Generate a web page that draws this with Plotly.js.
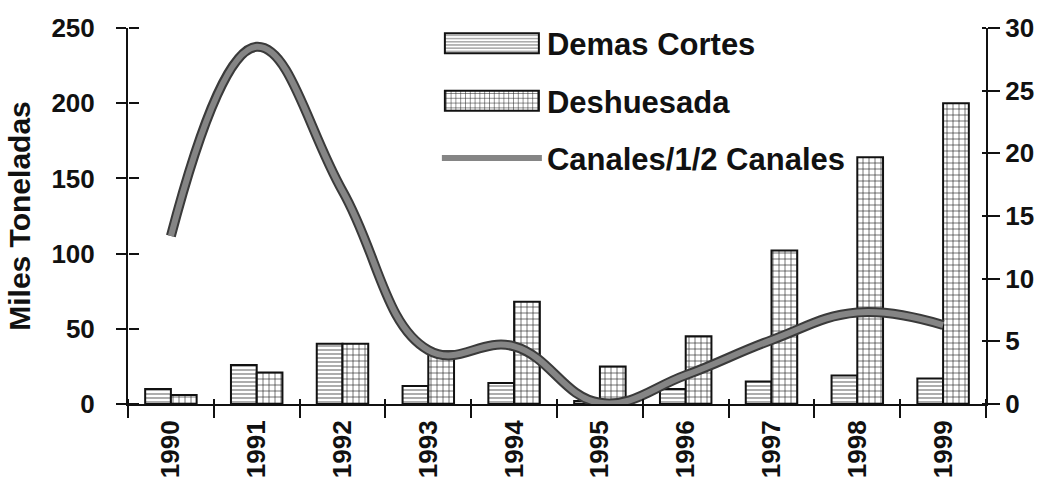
<!DOCTYPE html>
<html><head><meta charset="utf-8">
<script src="https://cdn.plot.ly/plotly-3.0.1.min.js"></script>
<style>html,body{margin:0;padding:0;background:#fff}#chart{width:1049px;height:500px}</style>
</head><body><div id="chart"></div>
<script>
const years = ["1990","1991","1992","1993","1994","1995","1996","1997","1998","1999"];
const demasCortes = [10, 26, 40, 12, 14, 2, 10, 15, 19, 17];
const deshuesada = [6, 21, 40, 35, 68, 25, 45, 102, 164, 200];
const canales = [13.4, 28.5, 17.0, 4.3, 4.6, 0.1, 2.3, 5.1, 7.3, 6.3];
const yTicks = [0, 50, 100, 150, 200, 250];
const y2Ticks = [0, 5, 10, 15, 20, 25, 30];
const boundaries = [-0.5, 0.5, 1.5, 2.5, 3.5, 4.5, 5.5, 6.5, 7.5, 8.5, 9.5];

const W = 1049, H = 500, ML = 128, MR = 63, MT = 28, MB = 96;
const fam = "Liberation Sans, Arial, sans-serif";
const tickFont = {family: fam, size: 26, color: "#111", weight: "bold"};
const traces = [
  {type: "bar", x: years, y: demasCortes, name: "Demas Cortes", legendgroup: "a",
   marker: {color: "#fff", line: {color: "#111", width: 2},
            pattern: {shape: "-", fgcolor: "#777", bgcolor: "#fff", size: 4, solidity: 0.3}}},
  {type: "bar", x: years, y: deshuesada, name: "Deshuesada", legendgroup: "b",
   marker: {color: "#fff", line: {color: "#111", width: 2},
            pattern: {shape: "+", fgcolor: "#222", bgcolor: "#fff", size: 6, solidity: 0.2}}},
  {type: "scatter", mode: "lines", x: years, y: canales, yaxis: "y2", showlegend: false,
   line: {color: "#3a3a3a", width: 10, shape: "spline", smoothing: 1.2}, hoverinfo: "skip"},
  {type: "scatter", mode: "lines", x: years, y: canales, yaxis: "y2", name: "Canales/1/2 Canales", legendgroup: "c",
   line: {color: "#858585", width: 6, shape: "spline", smoothing: 1.2}},
  // invisible helpers so the extra tick-only axes (making ticks cross the axis lines) are drawn
  {type: "scatter", mode: "markers", x: [years[0]], y: [0], yaxis: "y3", showlegend: false,
   hoverinfo: "skip", marker: {opacity: 0, size: 1}},
  {type: "scatter", mode: "markers", x: [years[0]], y: [0], yaxis: "y4", showlegend: false,
   hoverinfo: "skip", marker: {opacity: 0, size: 1}},
  {type: "scatter", mode: "markers", x: [0], y: [0], xaxis: "x2", showlegend: false,
   hoverinfo: "skip", marker: {opacity: 0, size: 1}}
];

const axisBase = {showline: true, linecolor: "#111", linewidth: 2, showgrid: false, zeroline: false,
                  tickwidth: 2, tickcolor: "#111", tickfont: tickFont};
const tickOnly = {showticklabels: false, showline: false, showgrid: false, zeroline: false,
                  ticks: "outside", tickwidth: 2, tickcolor: "#111"};
const layout = {
  width: W, height: H,
  margin: {l: ML, r: MR, t: MT, b: MB},
  paper_bgcolor: "#fff", plot_bgcolor: "rgba(0,0,0,0)",
  font: {family: fam, size: 20, color: "#111"},
  barmode: "group", bargap: 0.4, bargroupgap: 0,
  showlegend: true,
  legend: {x: 0.36, y: 1.03, xanchor: "left", yanchor: "top", bgcolor: "rgba(0,0,0,0)",
           font: {family: fam, size: 31, color: "#111", weight: "bold"},
           traceorder: "grouped", tracegroupgap: 14, itemwidth: 100},
  xaxis: Object.assign({}, axisBase, {type: "category", tickson: "boundaries", ticks: "outside", ticklen: 12,
          tickangle: -90, range: [-0.5, 9.5], ticklabelstandoff: 4}),
  // tick-only axes placed on the plot edges with the opposite side, so their ticks point into the plot
  xaxis2: Object.assign({}, tickOnly, {overlaying: "x", anchor: "free", position: 0, side: "top",
           range: [-0.5, 9.5], tickvals: boundaries, ticklen: 5}),
  yaxis: Object.assign({}, axisBase, {range: [0, 250], tickvals: yTicks, ticks: "outside", ticklen: 10,
          ticklabelstandoff: 16,
          title: {text: "Miles Toneladas", font: {family: fam, size: 30, color: "#111", weight: "bold"}, standoff: 12}}),
  yaxis3: Object.assign({}, tickOnly, {overlaying: "y", anchor: "free", position: 0, side: "right",
           range: [0, 250], tickvals: yTicks, ticklen: 10}),
  yaxis2: Object.assign({}, axisBase, {range: [0, 30], tickvals: y2Ticks, overlaying: "y", side: "right",
           ticks: "outside", ticklen: 12}),
  yaxis4: Object.assign({}, tickOnly, {overlaying: "y", anchor: "free", position: 1, side: "left",
           range: [0, 30], tickvals: y2Ticks, ticklen: 4})
};

Plotly.newPlot("chart", traces, layout, {displayModeBar: false, staticPlot: true}).then(function(gd){
  // widen the bar swatches in the legend to match the original's long rectangles
  gd.querySelectorAll(".legend .traces .legendpoints path").forEach(function(p){
    const d = p.getAttribute("d") || "";
    if (d.indexOf("M6,6H-6V-6H6Z") === 0) {
      p.setAttribute("d", "M47,10H-47V-10H47Z");
    }
  });
});
</script></body></html>
